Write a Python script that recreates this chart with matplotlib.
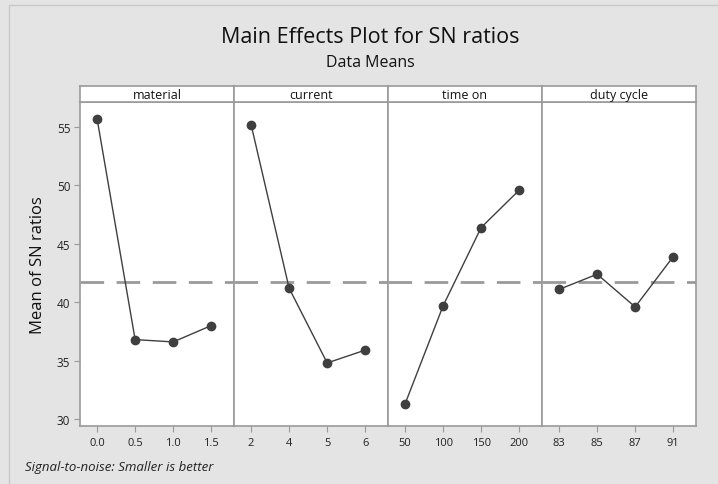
import matplotlib
matplotlib.use("Agg")

import matplotlib.pyplot as plt
from matplotlib.patches import Rectangle

plt.rcParams["font.family"] = ["Open Sans", "DejaVu Sans"]

FACTORS = ["material", "current", "time on", "duty cycle"]
LEVEL_LABELS = [
    ["0.0", "0.5", "1.0", "1.5"],
    ["2", "4", "5", "6"],
    ["50", "100", "150", "200"],
    ["83", "85", "87", "91"],
]
SN_MEANS = [
    [55.7, 36.8, 36.6, 38.0],
    [55.2, 41.2, 34.8, 35.9],
    [31.3, 39.7, 46.4, 49.6],
    [41.1, 42.4, 39.6, 43.9],
]
Y_TICKS = [30, 35, 40, 45, 50, 55]

BG = "#e4e4e4"
FRAME = "#9a9a9a"
INK = "#3f3f3f"

grand_mean = sum(sum(v) for v in SN_MEANS) / sum(len(v) for v in SN_MEANS)

fig = plt.figure(figsize=(7.18, 4.85), dpi=100, facecolor=BG)

left, right = 80 / 718, 696 / 718
bottom, top = 1 - 427 / 485, 1 - 103 / 485
strip_h = 16 / 485
panel_w = (right - left) / len(FACTORS)

# thin border along the top and left of the graph window
fig.patches.append(Rectangle((9 / 718, -0.2), 1.2, 1.2 - 6 / 485,
                             transform=fig.transFigure, fill=False,
                             edgecolor="#c8c8c8", lw=1.0))

axes = []
for i, factor in enumerate(FACTORS):
    x0 = left + i * panel_w
    ax = fig.add_axes([x0, bottom, panel_w, top - bottom],
                      sharey=axes[0] if axes else None)
    axes.append(ax)
    ax.set_facecolor("white")

    xs = list(range(len(LEVEL_LABELS[i])))
    ax.axhline(grand_mean, color="#9a9a9a", lw=2.0, dashes=(8.5, 4.5), zorder=1)
    ax.plot(xs, SN_MEANS[i], color=INK, lw=1.0, marker="o", ms=6,
            markeredgecolor=INK, markerfacecolor=INK, zorder=3)

    ax.set_xlim(-0.45, 3.6)
    ax.set_xticks(xs)
    ax.set_xticklabels(LEVEL_LABELS[i], fontsize=8, color="#222222")
    ax.tick_params(axis="x", direction="out", length=4, color=FRAME, pad=4)

    for s in ax.spines.values():
        s.set_color(FRAME)
        s.set_linewidth(1.2)

    if i == 0:
        ax.set_yticks(Y_TICKS)
        ax.tick_params(axis="y", direction="out", length=4, color=FRAME,
                       labelsize=8.5, labelcolor="#222222", pad=3)
        ax.set_ylabel("Mean of SN ratios", fontsize=12, color="#111111",
                      labelpad=8)
    else:
        ax.tick_params(axis="y", left=False, labelleft=False)

    # strip header with the factor name
    strip = fig.add_axes([x0, top, panel_w, strip_h])
    strip.set_facecolor("white")
    strip.set_xticks([])
    strip.set_yticks([])
    for s in strip.spines.values():
        s.set_color(FRAME)
        s.set_linewidth(1.2)
    strip.text(0.5, 0.45, factor, ha="center", va="center", fontsize=9,
               color="#111111", transform=strip.transAxes)

axes[0].set_ylim(29.4, 57.15)

fig.text(370 / 718, 1 - 38 / 485, "Main Effects Plot for SN ratios",
         ha="center", va="center", fontsize=15.5, color="#111111")
fig.text(370 / 718, 1 - 63 / 485, "Data Means", ha="center", va="center",
         fontsize=11.5, color="#111111")
fig.text(25 / 718, 1 - 468 / 485, "Signal-to-noise: Smaller is better",
         ha="left", va="center", fontsize=9.5, style="italic", color="#222222")

fig.savefig("out.png", dpi=100, facecolor=BG)
